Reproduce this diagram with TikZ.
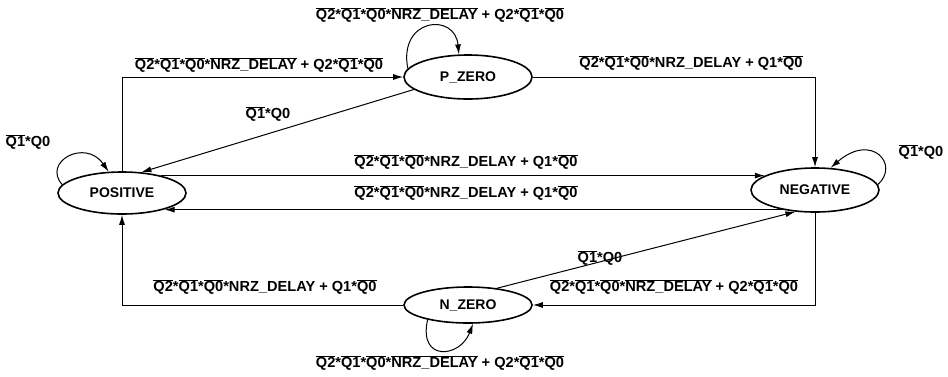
\documentclass[tikz,border=0pt]{standalone}
\usepackage{fontspec}
\setmainfont{Liberation Sans}
\usetikzlibrary{arrows.meta,shapes.geometric}
\newcommand\ovl[1]{$\overline{\mbox{#1}}$}
\newcommand\lblA{\ovl{Q2}*\ovl{Q1}*\ovl{Q0}*\ovl{NRZ\_DELAY} + Q2*\ovl{Q1}*\ovl{Q0}}
\newcommand\lblB{\ovl{Q2}*\ovl{Q1}*\ovl{Q0}*NRZ\_DELAY + Q1*\ovl{Q0}}
\newcommand\lblC{\ovl{Q1}*Q0}
\begin{document}
\begin{tikzpicture}[x=1pt,y=-1pt,
  state/.style={ellipse, draw, line width=1.6pt, minimum width=128pt, minimum height=42pt, inner sep=0pt, font=\fontsize{14}{16}\selectfont\bfseries},
  lbl/.style={font=\fontsize{14.6}{16}\selectfont\bfseries, inner sep=1pt},
  conn/.style={line width=1pt, -{Latex[length=10pt,width=6pt]}}]
\useasboundingbox (0,0) rectangle (948,376);
\node[state] (pos) at (122,193) {POSITIVE};
\node[state, minimum height=44pt] (pz) at (468,77) {P\_ZERO};
\node[state, minimum height=44pt] (neg) at (815,190) {NEGATIVE};
\node[state, minimum height=36pt] (nz) at (468,305) {N\_ZERO};
% edges
\draw[conn] (pos.north) |- (pz.west);
\draw[conn] (pz.193) -- (pos.47);
\draw[conn] (pz.east) -| (neg.north);
\draw[conn] (pos.24) -- (neg.164 |- pos.24);
\draw[conn] (neg.211) -- (pos.-21 |- neg.211);
\draw[conn] (neg.south) |- (nz.east);
\draw[conn] (nz.west) -| (pos.south);
\draw[conn] (nz.30) -- (neg.228);
% self loops
\draw[conn] (pz.172) .. controls (398,18) and (455,12) .. (pz.112);
\draw[conn] (nz.200) .. controls (418,362) and (460,358) .. (nz.-75);
\draw[conn] (pos.172) .. controls (42,162) and (85,138) .. (pos.122);
\draw[conn] (neg.5) .. controls (900,165) and (872,132) .. (neg.55);
% labels
\node[lbl] (l1) at (259,65) {\lblA};
\node[lbl] (l2) at (268,114) {\lblC};
\node[lbl] (l3) at (691,63) {\lblB};
\node[lbl] (l4) at (466,162) {\lblB};
\node[lbl] (l5) at (466,193) {\lblB};
\node[lbl] (l6) at (674,287) {\lblA};
\node[lbl] (l7) at (265,287) {\lblB};
\node[lbl] (l8) at (600,258) {\lblC};
\node[lbl] (l9) at (440,15) {\lblA};
\node[lbl] (l10) at (440,363) {\lblA};
\node[lbl] (l11) at (28,142) {\lblC};
\node[lbl] (l12) at (921,152) {\lblC};
\end{tikzpicture}
\end{document}
